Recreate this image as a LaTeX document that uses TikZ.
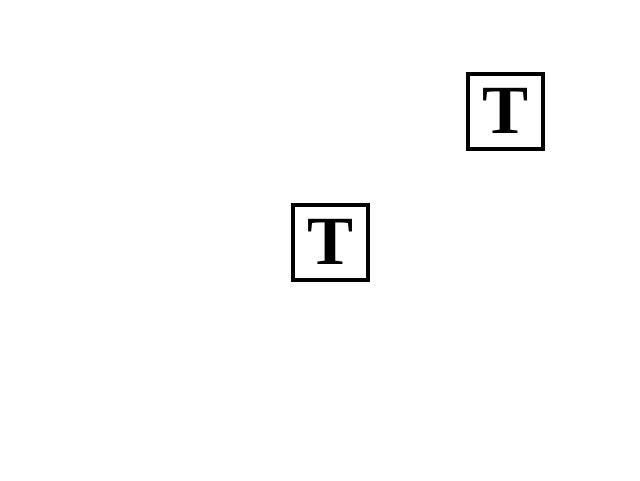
\documentclass[tikz,border=0pt]{standalone}
\usepackage{fontspec}
\newfontfamily\tfont{Liberation Serif}
\begin{document}
\begin{tikzpicture}[x=1pt,y=-1pt,
  tbox/.style={draw=black,line width=4pt,inner sep=0pt,minimum width=75pt,minimum height=75pt,font=\tfont\bfseries\fontsize{69}{69}\selectfont}]
\useasboundingbox (0,0) rectangle (640,480);
\node[tbox] (a) at (505.5,111) {T};
\node[tbox] (b) at (330.5,242) {T};
\end{tikzpicture}
\end{document}
